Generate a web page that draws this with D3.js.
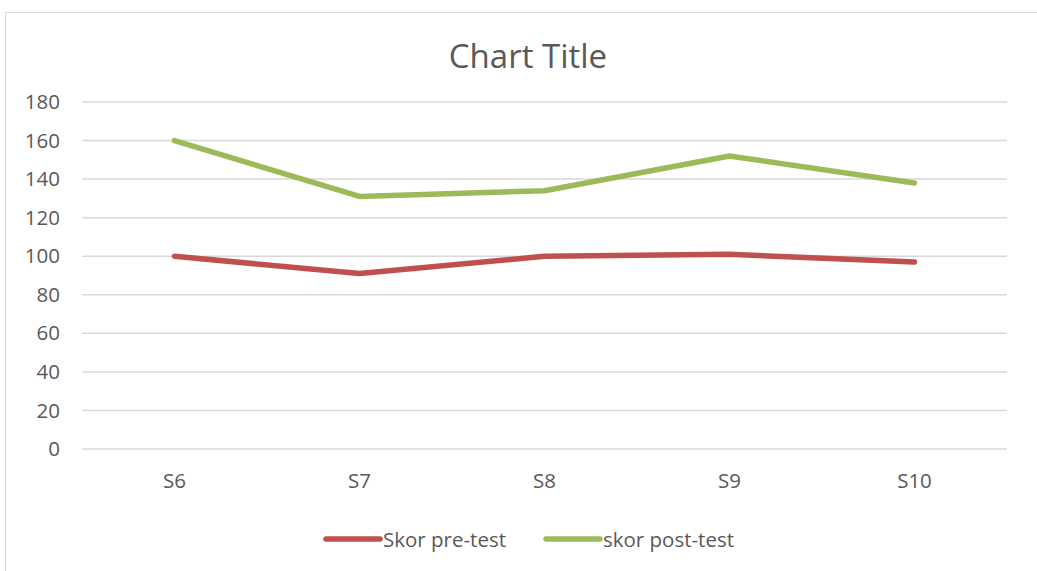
<!DOCTYPE html>
<html>
<head>
<meta charset="utf-8">
<script src="https://cdn.jsdelivr.net/npm/d3@7"></script>
<style>
  body { margin: 0; background: #fff; }
  svg text { font-family: "Liberation Sans Narrow", "Open Sans", "Noto Sans", sans-serif; fill: #595959; }
</style>
</head>
<body>
<div id="chart"></div>
<script>
const categories = ["S6", "S7", "S8", "S9", "S10"];
const preTest = [100, 91, 100, 101, 97];
const postTest = [160, 131, 134, 152, 138];
const yTicks = [0, 20, 40, 60, 80, 100, 120, 140, 160, 180];
const seriesNames = ["Skor pre-test", "skor post-test"];
const seriesColors = ["#C0504D", "#9BBB59"];

const width = 1037, height = 571;
const margin = {top: 102, right: 30, bottom: 122, left: 82};
const innerW = width - margin.left - margin.right;
const innerH = height - margin.top - margin.bottom;

const svg = d3.select("#chart").append("svg")
    .attr("width", width)
    .attr("height", height);

// chart area border
svg.append("rect")
    .attr("x", 5.5).attr("y", 12.5)
    .attr("width", 1040).attr("height", 600)
    .attr("fill", "none")
    .attr("stroke", "#d9d9d9");

svg.append("text")
    .attr("x", 528).attr("y", 68)
    .attr("text-anchor", "middle")
    .style("font-size", "33px")
    .text("Chart Title");

const g = svg.append("g")
    .attr("transform", `translate(${margin.left},${margin.top})`);

const x = d3.scaleBand().domain(categories).range([0, innerW]);
const y = d3.scaleLinear().domain([0, 180]).range([innerH, 0]);

// gridlines
g.selectAll(".grid")
    .data(yTicks)
    .join("line")
    .attr("x1", 0).attr("x2", innerW)
    .attr("y1", d => y(d)).attr("y2", d => y(d))
    .attr("stroke", "#d9d9d9")
    .attr("stroke-width", 1.5);

// y axis labels
g.append("g")
    .call(d3.axisLeft(y).tickValues(yTicks).tickSize(0).tickPadding(22))
    .call(a => a.select(".domain").remove())
    .selectAll("text")
    .style("font-size", "20.5px");

// x axis labels
g.append("g")
    .attr("transform", `translate(0,${innerH})`)
    .call(d3.axisBottom(x).tickSize(0).tickPadding(24))
    .call(a => a.select(".domain").remove())
    .selectAll("text")
    .style("font-size", "20.5px");

const line = d3.line()
    .x((d, i) => x(categories[i]) + x.bandwidth() / 2)
    .y(d => y(d));

[preTest, postTest].forEach((s, i) => {
    g.append("path")
        .datum(s)
        .attr("d", line)
        .attr("fill", "none")
        .attr("stroke", seriesColors[i])
        .attr("stroke-width", 5.5)
        .attr("stroke-linecap", "round")
        .attr("stroke-linejoin", "round");
});

// legend
const legendX = [326, 546];
const legend = svg.append("g").attr("transform", "translate(0,539)");
seriesNames.forEach((name, i) => {
    legend.append("line")
        .attr("x1", legendX[i]).attr("x2", legendX[i] + 54)
        .attr("y1", 0).attr("y2", 0)
        .attr("stroke", seriesColors[i])
        .attr("stroke-width", 5.5)
        .attr("stroke-linecap", "round");
    legend.append("text")
        .attr("x", legendX[i] + 57)
        .attr("y", 7.5)
        .style("font-size", "20.5px")
        .text(name);
});
</script>
</body>
</html>
